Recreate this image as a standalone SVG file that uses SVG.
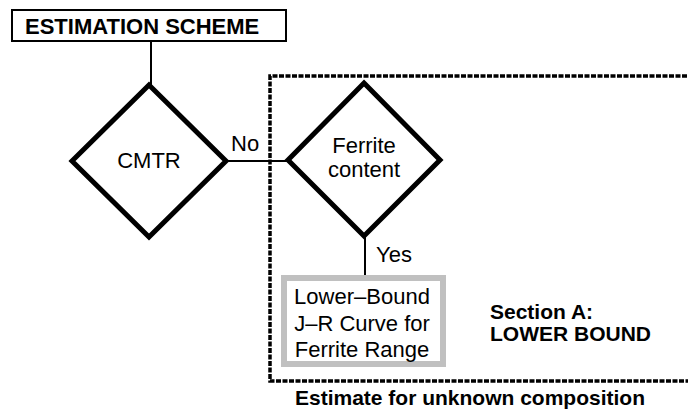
<svg xmlns="http://www.w3.org/2000/svg" width="688" height="410" viewBox="0 0 688 410">
<style>
text{font-family:"Liberation Sans",Arial,sans-serif;fill:#000}
.b{font-weight:bold}
.t{font-size:22px}
.s{font-size:21px}
.c{text-anchor:middle}
.dia{fill:#fff;stroke:#000;stroke-width:5;stroke-linejoin:miter}
.ln{stroke:#000;stroke-width:2;fill:none}
.hatch{fill:none;stroke:#000;stroke-width:3.5;stroke-dasharray:5 1.5}
</style>
<rect width="688" height="410" fill="#fff"/>
<path class="hatch" d="M700 76 H270 V381 H700"/>
<g id="connectors">
<line class="ln" x1="151" y1="41" x2="151" y2="86"/>
<line class="ln" x1="226" y1="161" x2="289" y2="161"/>
<line class="ln" x1="365" y1="236" x2="365" y2="278"/>
<text class="t" x="231" y="151">No</text>
<text class="t" x="376" y="262">Yes</text>
</g>
<g id="title">
<rect x="12" y="10" width="274" height="31" fill="#fff" stroke="#000" stroke-width="2"/>
<text class="b t" x="25" y="34">ESTIMATION SCHEME</text>
</g>
<g id="cmtr">
<polygon class="dia" points="149,85 226,161 149,237 72,161"/>
<text class="t c" x="149" y="168">CMTR</text>
</g>
<g id="ferrite">
<polygon class="dia" points="364,83 440,160 364,236 288,160"/>
<text class="t c" x="364" y="153">Ferrite</text>
<text class="t c" x="364" y="177">content</text>
</g>
<g id="lowerbound">
<rect x="284" y="278" width="159" height="86" fill="#fff" stroke="#c0c0c0" stroke-width="6"/>
<text class="t c" x="362" y="304">Lower–Bound</text>
<text class="t c" x="362" y="331">J–R Curve for</text>
<text class="t c" x="362" y="357">Ferrite Range</text>
</g>
<g id="sectionA">
<text class="b s" x="490" y="319">Section A:</text>
<text class="b s" x="490" y="341">LOWER BOUND</text>
</g>
<text class="b s c" x="470" y="405">Estimate for unknown composition</text>
</svg>
